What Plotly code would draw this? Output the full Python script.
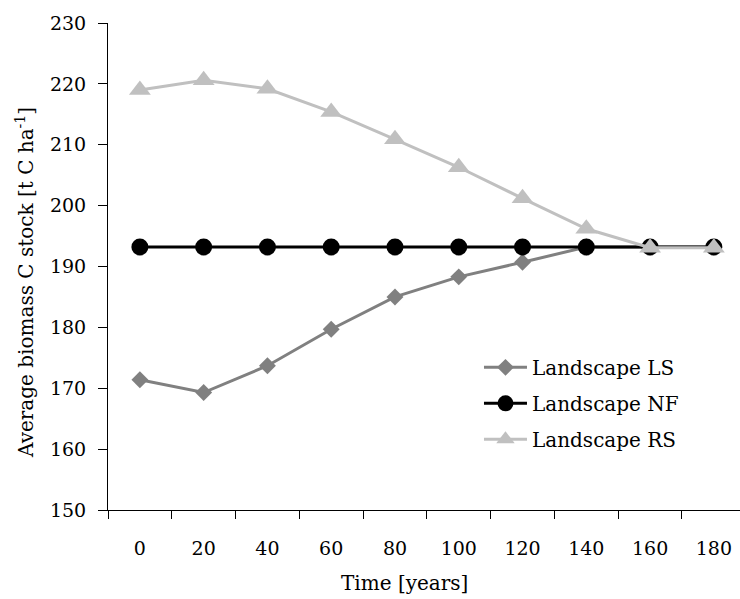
import plotly.graph_objects as go

# Simulation years (category axis) and average biomass carbon stock per landscape
years = ["0", "20", "40", "60", "80", "100", "120", "140", "160", "180"]
ls_stock = [171.4, 169.3, 173.7, 179.7, 185.0, 188.3, 190.7, 193.2, 193.2, 193.2]
nf_stock = [193.2, 193.2, 193.2, 193.2, 193.2, 193.2, 193.2, 193.2, 193.2, 193.2]
rs_stock = [219.0, 220.6, 219.2, 215.4, 210.9, 206.3, 201.2, 196.2, 193.1, 193.1]

FONT = "DejaVu Serif"

fig = go.Figure()
fig.add_trace(go.Scatter(
    x=years, y=ls_stock, name="Landscape LS", mode="lines+markers",
    line=dict(color="#808080", width=3),
    marker=dict(symbol="diamond", size=13, color="#808080"),
    legendgroup="ls",
))
fig.add_trace(go.Scatter(
    x=years, y=nf_stock, name="Landscape NF", mode="lines+markers",
    line=dict(color="#000000", width=3),
    marker=dict(symbol="circle", size=17, color="#000000"),
    legendgroup="nf",
))
fig.add_trace(go.Scatter(
    x=years, y=rs_stock, name="Landscape RS", mode="lines+markers",
    line=dict(color="#C0C0C0", width=3),
    marker=dict(symbol="triangle-up", size=19, color="#C0C0C0"),
    legendgroup="rs",
))

fig.update_layout(
    width=740, height=599,
    margin=dict(l=108, r=0, t=23, b=89),
    paper_bgcolor="white", plot_bgcolor="white",
    font=dict(family=FONT, size=20, color="#000000"),
    showlegend=True,
    legend=dict(
        x=0.587, y=0.333, xanchor="left", yanchor="top",
        bgcolor="rgba(0,0,0,0)", borderwidth=0,
        font=dict(family=FONT, size=20),
        itemwidth=43, tracegroupgap=7,
    ),
    xaxis=dict(
        type="category", range=[-0.5, 9.41],
        tickson="boundaries", ticks="outside", ticklen=8, tickwidth=1,
        tickcolor="#000000", showline=True, linecolor="#000000", linewidth=1,
        showgrid=False, zeroline=False, ticklabelstandoff=21,
        tickfont=dict(family=FONT, size=19),
    ),
    yaxis=dict(
        range=[150, 230], dtick=10, tick0=150,
        ticks="outside", ticklen=9, tickwidth=1, tickcolor="#000000",
        showline=True, linecolor="#000000", linewidth=1,
        showgrid=False, zeroline=False, ticklabelstandoff=8,
        tickfont=dict(family=FONT, size=19),
    ),
    annotations=[
        dict(text="Time [years]", xref="paper", yref="paper",
             x=(404 - 108) / 632, y=(510 - 583) / 487,
             xanchor="center", yanchor="middle", showarrow=False,
             font=dict(family=FONT, size=20)),
        dict(text="Average biomass C stock [t C ha<sup>-1</sup>]",
             xref="paper", yref="paper",
             x=(25 - 108) / 632, y=(510 - 283) / 487,
             xanchor="center", yanchor="middle", showarrow=False,
             textangle=-90, font=dict(family=FONT, size=20)),
    ],
)

fig.write_html("out.html")
